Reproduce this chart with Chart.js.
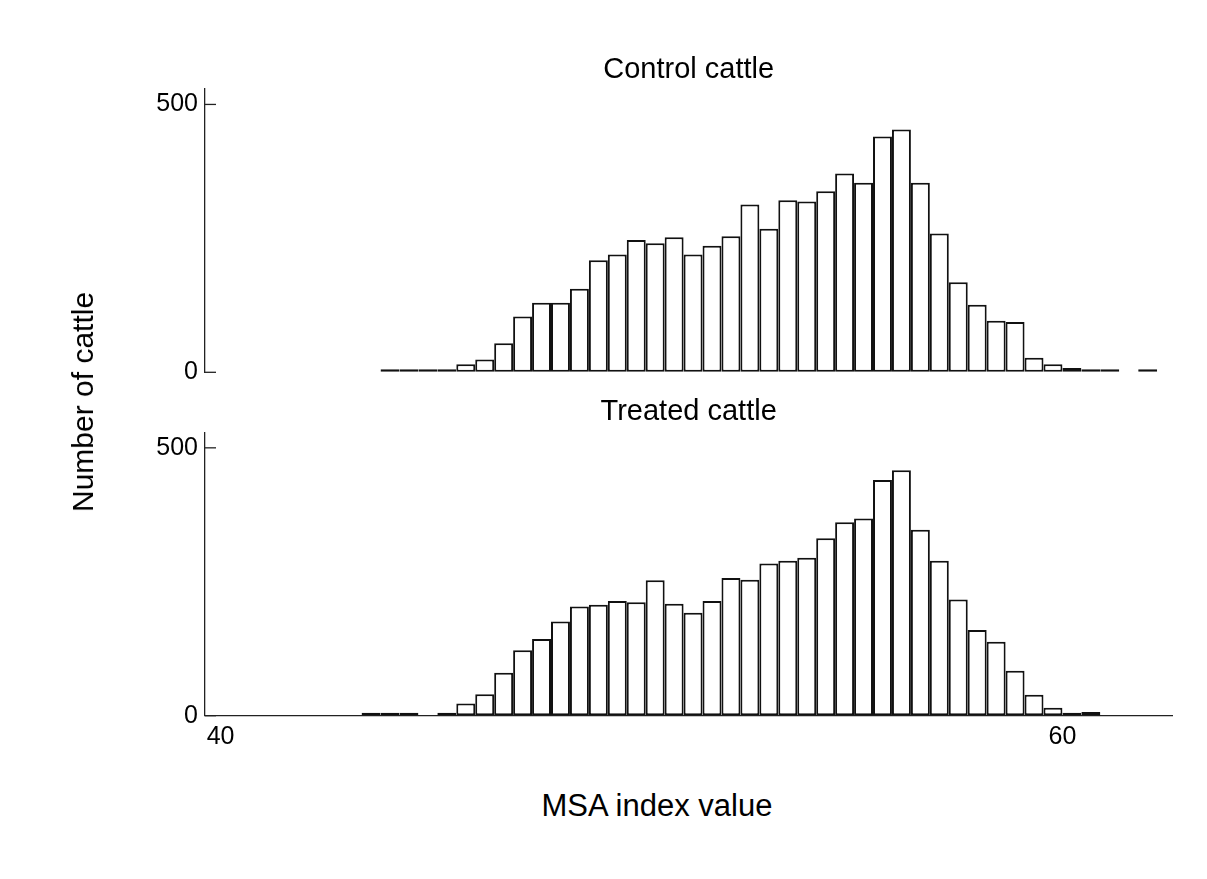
<!DOCTYPE html>
<html>
<head>
<meta charset="utf-8">
<title>MSA index value distribution</title>
<script src="https://cdn.jsdelivr.net/npm/chart.js@4/dist/chart.umd.min.js"></script>
<style>
  html, body { margin: 0; padding: 0; background: #fff; }
  #page { position: relative; width: 1207px; height: 879px; overflow: hidden;
          font-family: 'Liberation Sans', Arial, sans-serif; color: #000; }
  .panel { position: absolute; left: 0; width: 1207px; height: 400px; }
  .axis-title { position: absolute; font-size: 30px; line-height: 30px; white-space: nowrap; }
</style>
</head>
<body>
<div id="page">
  <div class="panel" style="top:0px"><canvas id="controlChart" width="1207" height="400"></canvas></div>
  <div class="panel" style="top:380px"><canvas id="treatedChart" width="1207" height="400"></canvas></div>
  <div class="axis-title" style="left:83px; top:402px; transform: translate(-50%, -50%) rotate(-90deg);">Number of cattle</div>
  <div class="axis-title" style="left:657px; top:806px; font-size:31px; transform: translate(-50%, -50%);">MSA index value</div>
</div>
<script>
// Histogram bins along the MSA index axis
const binStart = 43.35;          // left edge of the first bin
const binWidth = 0.45;

// Axis ticks and limits
const xTicks = [40, 60];
const yTicks = [0, 500];
const xMin = 39.63;
const xMax = 62.61;
const yMax = 529;

// Number of cattle per bin (null = empty bin)
const controlCounts = [null, 0, 0, 0, 4, 15, 24, 54, 104, 130, 130, 156, 209, 220, 247, 241,
  252, 220, 236, 254, 313, 268, 321, 319, 338, 371, 354, 440, 453, 354, 259, 168, 126, 96,
  94, 27, 15, 8, 3, 0, null, 0];
const treatedCounts = [0, 0, 0, null, 5, 23, 40, 80, 122, 143, 176, 204, 207, 214, 212, 253,
  209, 192, 214, 257, 254, 284, 289, 295, 331, 361, 368, 440, 458, 347, 289, 217, 160, 138,
  84, 39, 15, 4, 7];

const FONT = "'Liberation Sans', Arial, sans-serif";
const binCentre = i => binStart + binWidth * (i + 0.5);

// Short tick marks drawn inward from the y axis
const innerTicks = {
  id: 'innerTicks',
  afterDraw(chart) {
    const y = chart.scales.y;
    const left = chart.chartArea.left;
    const ctx = chart.ctx;
    ctx.save();
    ctx.strokeStyle = '#222';
    ctx.lineWidth = 1.3;
    y.ticks.forEach(t => {
      const py = y.getPixelForValue(t.value);
      ctx.beginPath();
      ctx.moveTo(left, py);
      ctx.lineTo(left + 11, py);
      ctx.stroke();
    });
    ctx.restore();
  }
};

function histogram(canvasId, title, counts, cfg) {
  return new Chart(document.getElementById(canvasId), {
    type: 'bar',
    data: {
      datasets: [{
        data: counts.map((c, i) => ({ x: binCentre(i), y: c })),
        backgroundColor: '#ffffff',
        borderColor: '#111111',
        borderWidth: 2,
        borderSkipped: false,
        minBarLength: 3,
        barPercentage: 1,
        categoryPercentage: 1,
        inflateAmount: 0
      }]
    },
    options: {
      responsive: false,
      animation: false,
      events: [],
      layout: { padding: cfg.padding },
      plugins: {
        legend: { display: false },
        tooltip: { enabled: false },
        title: {
          display: true,
          text: title,
          fullSize: false,
          color: '#000',
          font: { family: FONT, size: 29, weight: 'normal', lineHeight: 1.2 },
          padding: { top: 0, bottom: cfg.titleGap }
        }
      },
      scales: {
        x: {
          type: 'linear',
          min: xMin,
          max: xMax,
          offset: false,
          display: cfg.showX,
          grid: { drawOnChartArea: false, drawTicks: false, offset: false },
          border: { display: true, color: '#222', width: 1.3 },
          ticks: { color: '#000', padding: 6, font: { family: FONT, size: 25 }, maxRotation: 0 },
          afterBuildTicks: s => { s.ticks = xTicks.map(v => ({ value: v })); },
          afterFit: s => { if (cfg.showX) s.height = 50; }
        },
        y: {
          min: 0,
          max: yMax,
          grid: { drawOnChartArea: false, drawTicks: false },
          border: { display: true, color: '#222', width: 1.3 },
          ticks: { color: '#000', padding: 7, font: { family: FONT, size: 25 } },
          afterBuildTicks: s => { s.ticks = yTicks.map(v => ({ value: v })); },
          afterFit: s => { s.width = 205; }
        }
      }
    },
    plugins: [innerTicks]
  });
}

histogram('controlChart', 'Control cattle', controlCounts, {
  showX: false,
  titleGap: 1.8,
  padding: { top: 52.3, bottom: 27.7, left: 0, right: 34.7 }
});

histogram('treatedChart', 'Treated cattle', treatedCounts, {
  showX: true,
  titleGap: 2.9,
  padding: { top: 14.6, bottom: 14.3, left: 0, right: 34.7 }
});
</script>
</body>
</html>
